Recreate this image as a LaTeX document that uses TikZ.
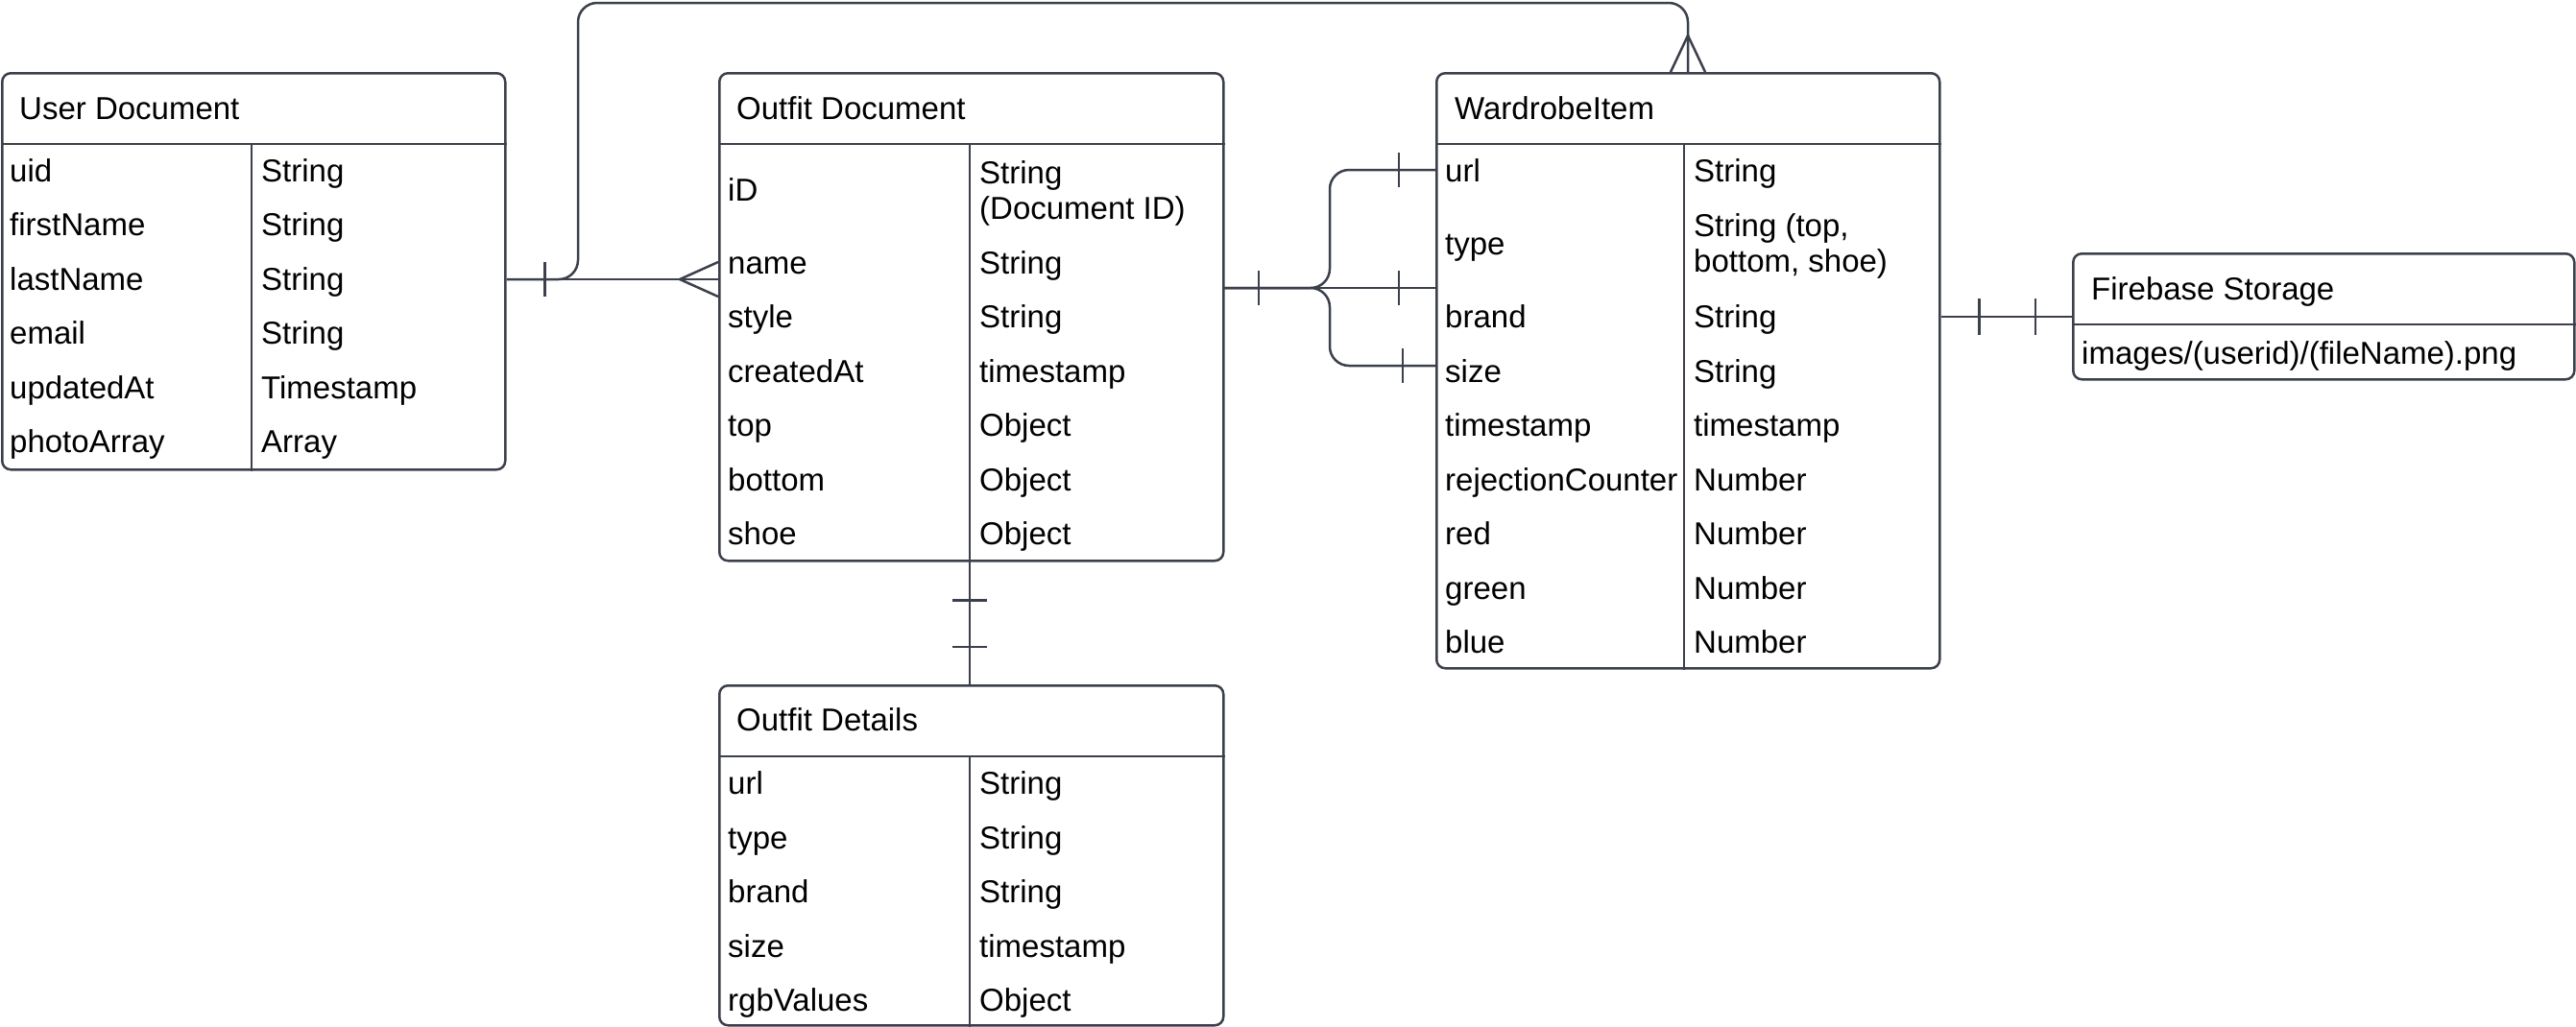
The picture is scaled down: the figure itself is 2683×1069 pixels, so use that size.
\documentclass[tikz,border=0pt]{standalone}
\usepackage{fontspec}
\setmainfont{Liberation Sans}
\usetikzlibrary{positioning}
\definecolor{linec}{HTML}{3B404C}
\newcommand\rowfont{\fontsize{33}{37}\selectfont}
\tikzset{
  entity/.style={draw=linec, line width=2.5pt, rounded corners=9pt, inner sep=0pt, anchor=north west},
  field/.style={anchor=west, inner sep=0pt, font=\rowfont, text height=23pt, text depth=0pt, align=left},
  rule/.style={draw=linec, line width=2pt},
  link/.style={draw=linec, line width=2.5pt},
}
\begin{document}
\begin{tikzpicture}[x=1pt, y=-1pt]
      \useasboundingbox (0,0) rectangle (2683,1069);
      % entity boxes
      \node[entity, minimum width=524pt, minimum height=413pt] (user) at (1,75) {};
      \node[entity, minimum width=525pt, minimum height=508pt] (outfit) at (748,75) {};
      \node[entity, minimum width=525pt, minimum height=354pt] (details) at (748,713) {};
      \node[entity, minimum width=524pt, minimum height=620pt] (wardrobe) at (1495,75) {};
      \node[entity, minimum width=522pt, minimum height=131pt] (storage) at (2158,263) {};
      % header rules and column rules
      \draw[rule] ([yshift=-75pt]user.north west) -- ([yshift=-75pt]user.north east);
      \draw[rule] ([yshift=-75pt]outfit.north west) -- ([yshift=-75pt]outfit.north east);
      \draw[rule] ([yshift=-75pt]details.north west) -- ([yshift=-75pt]details.north east);
      \draw[rule] ([yshift=-75pt]wardrobe.north west) -- ([yshift=-75pt]wardrobe.north east);
      \draw[rule] ([yshift=-75pt]storage.north west) -- ([yshift=-75pt]storage.north east);
      \draw[rule] ([xshift=261pt,yshift=-75pt]user.north west) -- ([xshift=261pt]user.south west);
      \draw[rule] ([xshift=262pt,yshift=-75pt]outfit.north west) -- ([xshift=262pt]outfit.south west);
      \draw[rule] ([xshift=262pt,yshift=-75pt]details.north west) -- ([xshift=262pt]details.south west);
      \draw[rule] ([xshift=259pt,yshift=-75pt]wardrobe.north west) -- ([xshift=259pt]wardrobe.south west);
      % user document
      \node[field] (user-title) at (20,113) {User Document};
      \node[field] (u1) at (10,178) {uid};
      \node[field] (u2) at (10,234) {firstName};
      \node[field] (u3) at (10,291) {lastName};
      \node[field] (u4) at (10,347) {email};
      \node[field] (u5) at (10,404) {updatedAt};
      \node[field] (u6) at (10,460) {photoArray};
      \node[field] (u1t) at (272,178) {String};
      \node[field] (u2t) at (272,234) {String};
      \node[field] (u3t) at (272,291) {String};
      \node[field] (u4t) at (272,347) {String};
      \node[field] (u5t) at (272,404) {Timestamp};
      \node[field] (u6t) at (272,460) {Array};
      % outfit document
      \node[field] (outfit-title) at (767,113) {Outfit Document};
      \node[field] (o1) at (758,198) {iD};
      \node[field] (o2) at (758,274) {name};
      \node[field] (o3) at (758,330) {style};
      \node[field] (o4) at (758,387) {createdAt};
      \node[field] (o5) at (758,443) {top};
      \node[field] (o6) at (758,500) {bottom};
      \node[field] (o7) at (758,556) {shoe};
      \node[field] (o1t) at (1020,217) {String\\(Document ID)};
      \node[field] (o2t) at (1020,274) {String};
      \node[field] (o3t) at (1020,330) {String};
      \node[field] (o4t) at (1020,387) {timestamp};
      \node[field] (o5t) at (1020,443) {Object};
      \node[field] (o6t) at (1020,500) {Object};
      \node[field] (o7t) at (1020,556) {Object};
      % outfit details
      \node[field] (details-title) at (767,750) {Outfit Details};
      \node[field] (d1) at (758,816) {url};
      \node[field] (d2) at (758,873) {type};
      \node[field] (d3) at (758,929) {brand};
      \node[field] (d4) at (758,986) {size};
      \node[field] (d5) at (758,1042) {rgbValues};
      \node[field] (d1t) at (1020,816) {String};
      \node[field] (d2t) at (1020,873) {String};
      \node[field] (d3t) at (1020,929) {String};
      \node[field] (d4t) at (1020,986) {timestamp};
      \node[field] (d5t) at (1020,1042) {Object};
      % wardrobe item
      \node[field] (wardrobe-title) at (1515,113) {WardrobeItem};
      \node[field] (w1) at (1505,178) {url};
      \node[field] (w2) at (1505,254) {type};
      \node[field] (w3) at (1505,330) {brand};
      \node[field] (w4) at (1505,387) {size};
      \node[field] (w5) at (1505,443) {timestamp};
      \node[field] (w6) at (1505,500) {rejectionCounter};
      \node[field] (w7) at (1505,556) {red};
      \node[field] (w8) at (1505,613) {green};
      \node[field] (w9) at (1505,669) {blue};
      \node[field] (w1t) at (1764,178) {String};
      \node[field] (w2t) at (1764,272) {String (top,\\bottom, shoe)};
      \node[field] (w3t) at (1764,330) {String};
      \node[field] (w4t) at (1764,387) {String};
      \node[field] (w5t) at (1764,443) {timestamp};
      \node[field] (w6t) at (1764,500) {Number};
      \node[field] (w7t) at (1764,556) {Number};
      \node[field] (w8t) at (1764,613) {Number};
      \node[field] (w9t) at (1764,669) {Number};
      % firebase storage
      \node[field] (storage-title) at (2178,301) {Firebase Storage};
      \node[field] (s1) at (2168,368) {images/(userid)/(fileName).png};
      % user -- outfit (one to many)
      \coordinate (uo1) at (user.east |- u3);
      \coordinate (uo2) at (outfit.west |- u3);
      \draw[link] (uo1) -- (uo2);
      \draw[link] ([xshift=40pt,yshift=18pt]uo1) -- ([xshift=40pt,yshift=-18pt]uo1);
      \draw[link] ([yshift=18pt]uo2) -- ([xshift=-40pt]uo2) -- ([yshift=-18pt]uo2);
      % user -- wardrobe item (one to many)
      \coordinate (uw) at ([xshift=263pt]wardrobe.north west);
      \draw[link, rounded corners=20pt] (uo1) -| (602,3) -| (uw);
      \draw[link] ([xshift=-18pt]uw) -- ([yshift=38pt]uw) -- ([xshift=18pt]uw);
      % outfit -- wardrobe item
      \coordinate (ow) at (1273,300);
      \coordinate (wo1) at (1495,177);
      \coordinate (wo2) at (1495,300);
      \coordinate (wo3) at (1495,381);
      \draw[link] (ow) -- (wo2);
      \draw[link, rounded corners=20pt] (ow) -| (1385,177) -- (wo1);
      \draw[link, rounded corners=20pt] (ow) -| (1385,381) -- (wo3);
      \draw[link] ([xshift=38pt,yshift=18pt]ow) -- ([xshift=38pt,yshift=-18pt]ow);
      \draw[link] ([xshift=-38pt,yshift=18pt]wo1) -- ([xshift=-38pt,yshift=-18pt]wo1);
      \draw[link] ([xshift=-38pt,yshift=18pt]wo2) -- ([xshift=-38pt,yshift=-18pt]wo2);
      \draw[link] ([xshift=-34pt,yshift=18pt]wo3) -- ([xshift=-34pt,yshift=-18pt]wo3);
      % outfit -- outfit details
      \coordinate (od1) at ([xshift=262pt]outfit.south west);
      \coordinate (od2) at ([xshift=262pt]details.north west);
      \draw[link] (od1) -- (od2);
      \draw[link] ([xshift=-18pt,yshift=-40pt]od1) -- ([xshift=18pt,yshift=-40pt]od1);
      \draw[link] ([xshift=-18pt,yshift=39pt]od2) -- ([xshift=18pt,yshift=39pt]od2);
      % wardrobe item -- storage
      \coordinate (ws1) at (wardrobe.east |- w3);
      \coordinate (ws2) at (storage.west |- w3);
      \draw[link] (ws1) -- (ws2);
      \draw[link] ([xshift=40pt,yshift=19pt]ws1) -- ([xshift=40pt,yshift=-19pt]ws1);
      \draw[link] ([xshift=-38pt,yshift=19pt]ws2) -- ([xshift=-38pt,yshift=-19pt]ws2);
\end{tikzpicture}
\end{document}
